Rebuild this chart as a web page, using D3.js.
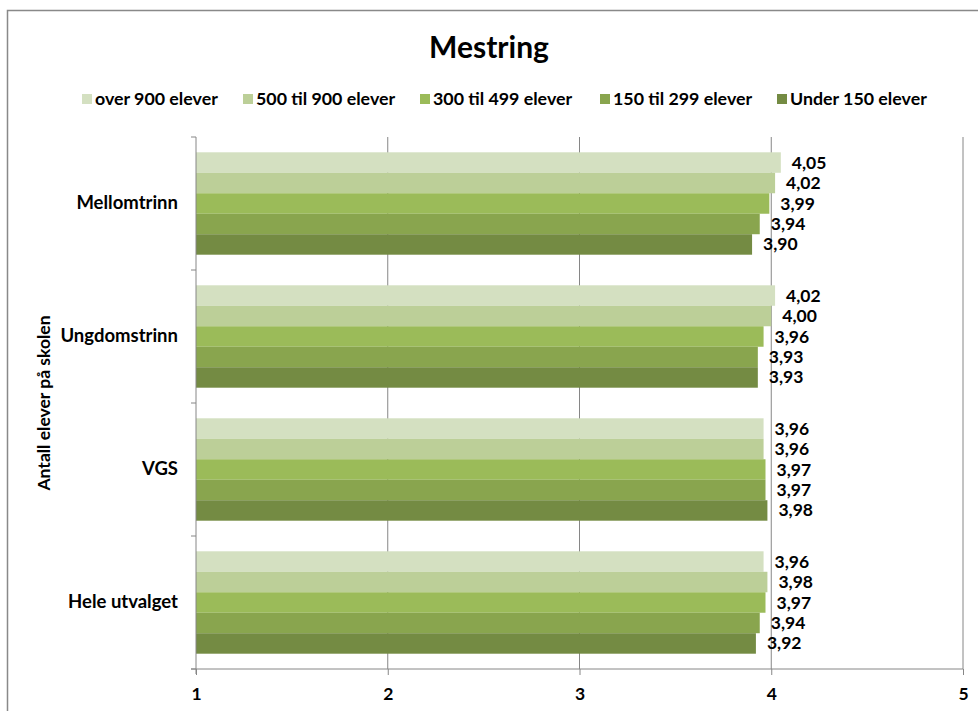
<!DOCTYPE html>
<html><head><meta charset="utf-8">
<script src="https://cdn.jsdelivr.net/npm/d3@7"></script>
<style>body{margin:0;background:#fff}svg{display:block}text{font-family:Lato,"Liberation Sans",Arial,sans-serif;font-weight:bold;fill:#000}</style>
</head><body><svg id="c" width="978" height="711"></svg>
<script>
const categories = ["Mellomtrinn","Ungdomstrinn","VGS","Hele utvalget"];
const seriesNames = ["over 900 elever","500 til 900 elever","300 til 499 elever","150 til 299 elever","Under 150 elever"];
const over900   = [4.05, 4.02, 3.96, 3.96];
const s500_900  = [4.02, 4.00, 3.96, 3.98];
const s300_499  = [3.99, 3.96, 3.97, 3.97];
const s150_299  = [3.94, 3.93, 3.97, 3.94];
const under150  = [3.90, 3.93, 3.98, 3.92];
const xTicks = [1,2,3,4,5];
const colors = ["#d4e0c1","#bccf98","#9bbb59","#89a54e","#748b43"];
const series = [over900, s500_900, s300_499, s150_299, under150];

const svg = d3.select("#c");
svg.append("rect").attr("x",7.5).attr("y",10.5).attr("width",1000).attr("height",800)
  .attr("fill","none").attr("stroke","#898989").attr("stroke-width",1.5);

const L=196, R=963, T=137, B=669;
const x = d3.scaleLinear().domain([1,5]).range([L,R]);
const y = d3.scaleBand().domain(categories).range([T,B]).paddingInner(0.23).paddingOuter(0.115);
const yi = d3.scaleBand().domain(d3.range(seriesNames.length)).range([0,y.bandwidth()]);

// gridlines
svg.append("g").selectAll("line").data(xTicks.slice(1)).join("line")
  .attr("x1",d=>x(d)).attr("x2",d=>x(d)).attr("y1",T).attr("y2",B)
  .attr("stroke","#868686").attr("stroke-width",1);

// title
svg.append("text").attr("x",489).attr("y",58).attr("text-anchor","middle")
  .style("font-size","30px").text("Mestring");

// legend
const legX = [82,243,420,600,777];
const leg = svg.append("g");
seriesNames.forEach((n,i)=>{
  leg.append("rect").attr("x",legX[i]).attr("y",94).attr("width",10).attr("height",10).attr("fill",colors[i]);
  leg.append("text").attr("x",legX[i]+13).attr("y",105).style("font-size","17.8px").text(n);
});

// bars
const gb = svg.append("g");
categories.forEach((c,ci)=>{
  series.forEach((s,si)=>{
    const v = s[ci];
    const yy = y(c)+yi(si);
    gb.append("rect").attr("x",x(1)).attr("y",yy).attr("width",x(v)-x(1)).attr("height",yi.bandwidth())
      .attr("fill",colors[si]);
    gb.append("text").attr("x",x(v)+11).attr("y",yy+yi.bandwidth()/2+6)
      .style("font-size","17.5px").text(d3.format(".2f")(v).replace(".",","));
  });
});

// axes
const xa = svg.append("g").attr("transform",`translate(0,${B})`)
  .call(d3.axisBottom(x).tickValues(xTicks).tickSize(6).tickFormat(d=>d));
xa.select(".domain").attr("stroke","#868686").attr("d",`M${L-5},0H${R}`);
xa.selectAll(".tick line").attr("stroke","#868686");
xa.selectAll(".tick text").style("font-size","17.5px").style("font-family","Lato,sans-serif").attr("dy","0").attr("y",31);

const ya = svg.append("g").attr("transform",`translate(${L},0)`);
ya.append("line").attr("x1",0).attr("x2",0).attr("y1",T).attr("y2",B+5).attr("stroke","#868686");
const bounds = [T].concat(categories.map(c=>y(c)+y.bandwidth()+y.step()*y.paddingInner()/2));
bounds[bounds.length-1]=B;
ya.selectAll("line.t").data(bounds).join("line").attr("class","t")
  .attr("x1",-5).attr("x2",0).attr("y1",d=>d).attr("y2",d=>d).attr("stroke","#868686");
ya.selectAll("text").data(categories).join("text")
  .attr("x",-18).attr("y",d=>y(d)+y.bandwidth()/2+5).attr("text-anchor","end")
  .style("font-size","18.5px").text(d=>d);

svg.append("text").attr("transform","translate(50,403) rotate(-90)").attr("text-anchor","middle")
  .style("font-size","17.5px").text("Antall elever på skolen");
</script></body></html>
